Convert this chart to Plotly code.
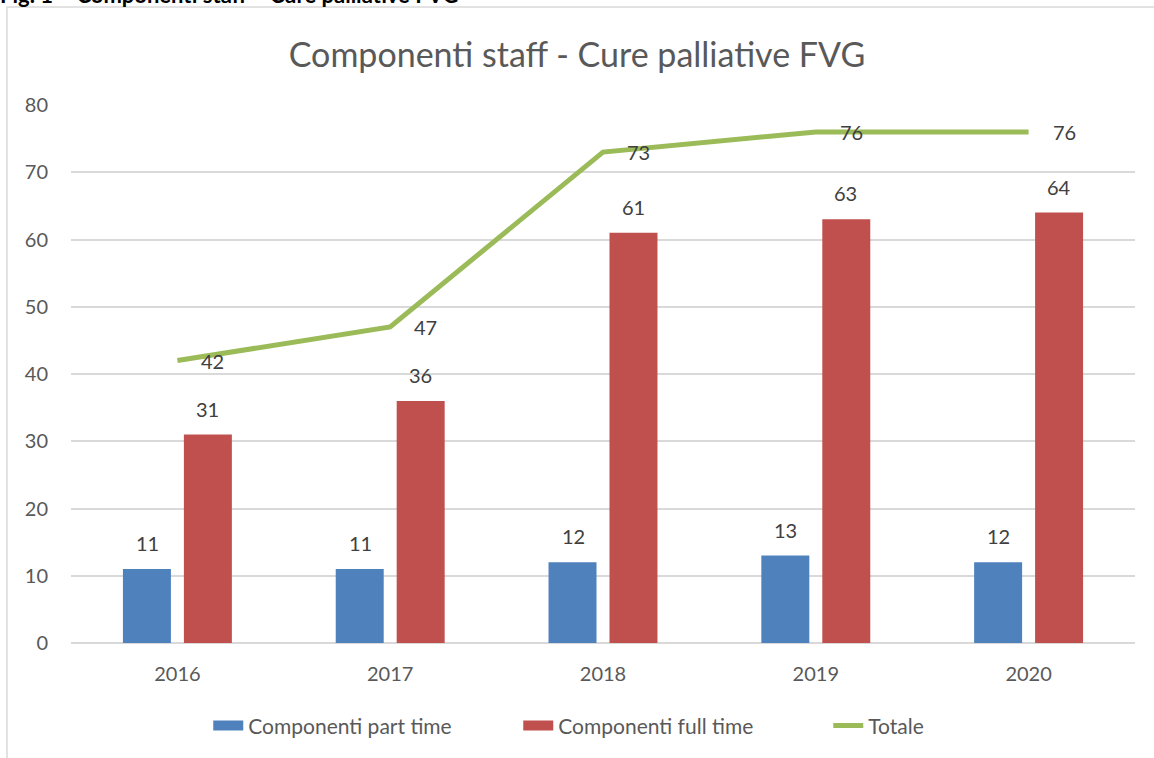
import plotly.graph_objects as go

anni = ["2016", "2017", "2018", "2019", "2020"]
part_time = [11, 11, 12, 13, 12]
full_time = [31, 36, 61, 63, 64]
totale = [42, 47, 73, 76, 76]

FONT = "Lato"
TXT = "#595959"
BLU, ROSSO, VERDE = "#4F81BD", "#C0504D", "#9BBB59"

fig = go.Figure()

fig.add_trace(go.Bar(
    x=anni, y=part_time, name="Componenti part time", showlegend=False,
    marker=dict(color=BLU, line=dict(width=0)),
))
fig.add_trace(go.Bar(
    x=anni, y=full_time, name="Componenti full time", showlegend=False,
    marker=dict(color=ROSSO, line=dict(width=0)),
))
fig.add_trace(go.Scatter(
    x=anni, y=totale, name="Totale", mode="lines", showlegend=False,
    line=dict(color=VERDE, width=5),
))

# voci di legenda con simboli larghi come in Excel
for nome, col, w in [("Componenti part time", BLU, 14), ("Componenti full time", ROSSO, 14),
                     ("Totale", VERDE, 5)]:
    fig.add_trace(go.Scatter(x=[None], y=[None], mode="lines", name=nome,
                             line=dict(color=col, width=w)))

# etichette dati (stile Excel); x come indice di categoria
ann = []
for i, v in enumerate(part_time):
    ann.append(dict(x=i, y=v, text=str(v), xshift=-30, yshift=12, yanchor="bottom"))
for i, v in enumerate(full_time):
    ann.append(dict(x=i, y=v, text=str(v), xshift=30, yshift=12, yanchor="bottom"))
for i, v in enumerate(totale):
    ann.append(dict(x=i, y=v, text=str(v), xshift=22, xanchor="left", yanchor="middle"))
for d in ann:
    d.update(showarrow=False, font=dict(family=FONT, size=20, color="#404040"))

# didascalia tagliata in alto
ann.append(dict(xref="paper", yref="paper", x=-0.069, y=1, yshift=111, xanchor="left",
                yanchor="middle", showarrow=False,
                text="<b>Fig. 1 – Componenti staff – Cure palliative FVG</b>",
                font=dict(family=FONT, size=22, color="#000000")))

fig.update_layout(
    width=1154, height=758,
    margin=dict(l=71, r=19, t=105, b=115),
    paper_bgcolor="white", plot_bgcolor="white",
    font=dict(family=FONT, color=TXT, size=20),
    title=dict(text="Componenti staff - Cure palliative FVG", x=0.5, xanchor="center",
               y=0.927, yanchor="middle", font=dict(family=FONT, size=34, color=TXT)),
    barmode="group", bargap=0.427, bargroupgap=0.213,
    annotations=ann,
    showlegend=True,
    legend=dict(orientation="h", x=0.129, xanchor="left", y=-0.154, yanchor="middle",
                font=dict(family=FONT, size=21, color=TXT), traceorder="normal",
                itemwidth=30, entrywidth=265, entrywidthmode="pixels"),
    shapes=[dict(type="rect", xref="paper", yref="paper", x0=-0.0602, x1=1.2,
                 y0=-0.4, y1=1.182, line=dict(color="#d9d9d9", width=1.5), layer="below")],
)
fig.update_xaxes(type="category", range=[-0.5, 4.5], showgrid=False, showline=False, ticks="",
                 ticklabelstandoff=17, tickfont=dict(family=FONT, size=20, color=TXT))
fig.update_yaxes(range=[0, 80], dtick=10, showgrid=True, gridcolor="#d9d9d9", gridwidth=1.5,
                 zeroline=True, zerolinecolor="#d9d9d9", zerolinewidth=1.5, showline=False,
                 ticks="", ticklabelstandoff=22, tickfont=dict(family=FONT, size=20, color=TXT))

# niente margine del body, cosi' la figura parte da (0, 0)
fig.write_html("out.html", config={"displayModeBar": False},
               post_script="document.body.style.margin='0';")
